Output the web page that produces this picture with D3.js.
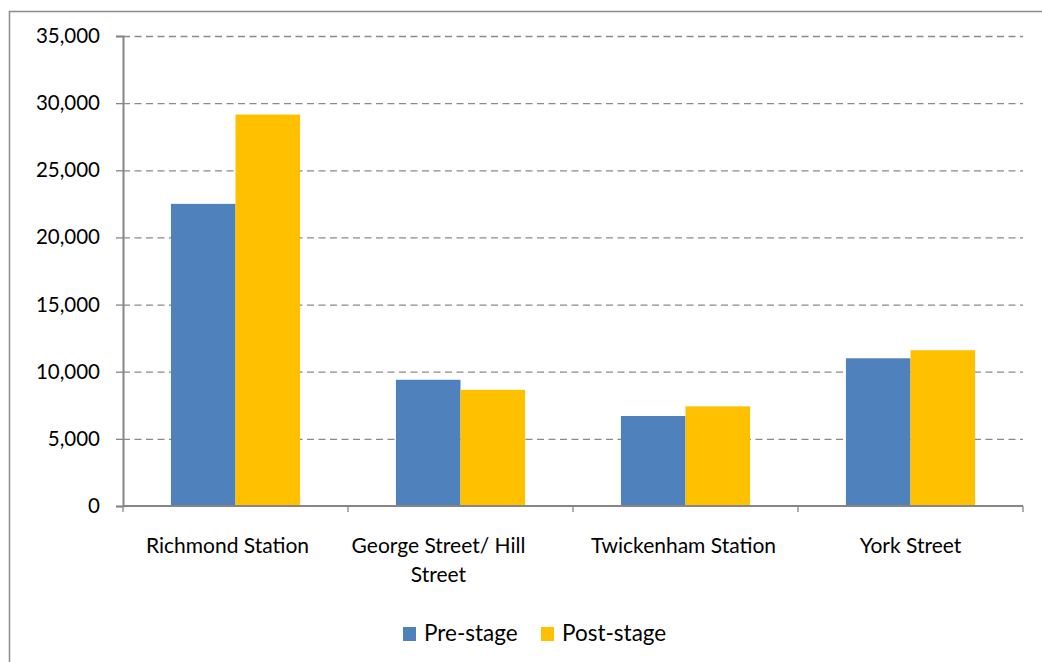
<!DOCTYPE html>
<html>
<head>
<meta charset="utf-8">
<script src="https://cdn.jsdelivr.net/npm/d3@7"></script>
<style>
	body { margin: 0; background: #fff; }
	svg text { font-family: Lato, "Open Sans", sans-serif; fill: #000; }
</style>
</head>
<body>
<div id="chart"></div>
<script>
// Data
const categories = [["Richmond Station"], ["George Street/ Hill", "Street"], ["Twickenham Station"], ["York Street"]];
const seriesNames = ["Pre-stage", "Post-stage"];
const preStage  = [22500, 9400, 6700, 11000];
const postStage = [29150, 8650, 7420, 11600];
const yTicks = [0, 5000, 10000, 15000, 20000, 25000, 30000, 35000];
const colors = ["#4F81BD", "#FFC000"];

const width = 1042, height = 662;
const margin = {top: 36, bottom: 156, left: 123, right: 19};
// label nudges (Excel wraps/centres these a bit off the band centre)
const labelShift = [-8, -22, -2, 0];

const svg = d3.select("#chart").append("svg")
	.attr("width", width).attr("height", height);

// outer frame
svg.append("rect")
	.attr("x", 9.5).attr("y", 11.5)
	.attr("width", width + 20).attr("height", height + 20)
	.attr("fill", "none").attr("stroke", "#8c8c8c").attr("stroke-width", 1.5);

let plotW = width - margin.left - margin.right,
	plotH = height - margin.top - margin.bottom;

let scaleX = d3.scaleBand(d3.range(categories.length), [0, plotW]).paddingInner(0).paddingOuter(0);
let scaleY = d3.scaleLinear([0, 35000], [plotH, 0]);

const chart = svg.append("g")
	.attr("transform", `translate(${margin.left}, ${margin.top})`);

// gridlines
chart.append("g").selectAll("line")
	.data(yTicks.filter(d => d > 0))
	.join("line")
	.attr("x1", 0).attr("x2", plotW)
	.attr("y1", d => scaleY(d) + 0.5).attr("y2", d => scaleY(d) + 0.5)
	.attr("stroke", "#8a8a8a").attr("stroke-width", 1.3)
	.attr("stroke-dasharray", "7,4.5");

// bars
const groupW = scaleX.bandwidth() * 0.574;
const barW = groupW / 2;
const series = [preStage, postStage];
series.forEach((vals, s) => {
	chart.append("g").selectAll("rect")
		.data(vals)
		.join("rect")
		.attr("x", (d, i) => scaleX(i) + (scaleX.bandwidth() - groupW) / 2 + s * barW)
		.attr("y", d => scaleY(d))
		.attr("width", barW)
		.attr("height", d => scaleY(0) - scaleY(d))
		.attr("fill", colors[s]);
});

// y axis
const axisY = chart.append("g")
	.call(d3.axisLeft(scaleY).tickValues(yTicks).tickSize(7).tickPadding(16).tickFormat(d3.format(",")));
axisY.select(".domain").attr("stroke", "#868686").attr("stroke-width", 2);
axisY.selectAll(".tick line").attr("stroke", "#868686").attr("stroke-width", 1.3);
axisY.selectAll(".tick text").attr("font-size", 20.5).style("font-family", "Lato, sans-serif");

// x axis
const axisX = chart.append("g").attr("transform", `translate(0, ${plotH})`);
axisX.append("line").attr("x1", 0).attr("x2", plotW).attr("y1", 0).attr("y2", 0)
	.attr("stroke", "#868686").attr("stroke-width", 2);
axisX.selectAll("line.tick")
	.data(d3.range(categories.length + 1))
	.join("line").classed("tick", true)
	.attr("x1", d => d * scaleX.step()).attr("x2", d => d * scaleX.step())
	.attr("y1", 0).attr("y2", 6)
	.attr("stroke", "#868686").attr("stroke-width", 1.3);

axisX.selectAll("text.cat")
	.data(categories)
	.join("text").classed("cat", true)
	.attr("text-anchor", "middle")
	.attr("font-size", 21)
	.attr("transform", (d, i) => `translate(${scaleX(i) + scaleX.bandwidth() / 2 + labelShift[i]}, 47)`)
	.selectAll("tspan")
	.data(d => d)
	.join("tspan")
	.attr("x", 0)
	.attr("dy", (d, i) => i === 0 ? 0 : 29)
	.text(d => d);

// legend
const legend = svg.append("g").attr("transform", "translate(403, 627)");
const legendX = [0, 138];
seriesNames.forEach((name, i) => {
	legend.append("rect").attr("x", legendX[i]).attr("y", 0)
		.attr("width", 13).attr("height", 14).attr("fill", colors[i]);
	legend.append("text").attr("x", legendX[i] + 21).attr("y", 14)
		.attr("font-size", 22.5).text(name);
});
</script>
</body>
</html>
